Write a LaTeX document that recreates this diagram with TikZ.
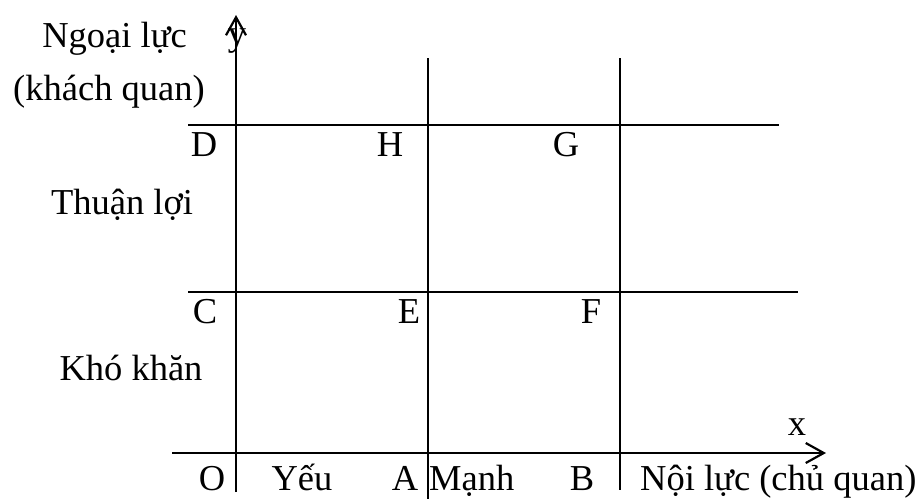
\documentclass[tikz,border=0pt]{standalone}
\usepackage{fontspec}
\setmainfont{Liberation Serif}
\usetikzlibrary{arrows.meta}
\begin{document}
\begin{tikzpicture}[x=1pt,y=-1pt,
  lbl/.style={inner sep=0pt,anchor=base,font=\fontsize{36.5}{40}\selectfont},
  axis/.style={line width=2.6pt,-{Straight Barb[length=18pt,width=20pt,line width=2.2pt]}},
  grid/.style={line width=2pt}]
\useasboundingbox (0,0) rectangle (923,499);
% coordinates
\coordinate (yb) at (236,492);
\coordinate (yt) at (236,15);
\coordinate (xl) at (172,453);
\coordinate (xr) at (826,453);
\coordinate (v1t) at (428,58);
\coordinate (v1b) at (428,499);
\coordinate (v2t) at (620,58);
\coordinate (v2b) at (620,490);
\coordinate (h1l) at (188,125);
\coordinate (h1r) at (779,125);
\coordinate (h2l) at (188,292);
\coordinate (h2r) at (798,292);
% lines
\draw[grid] (v1t) -- (v1b);
\draw[grid] (v2t) -- (v2b);
\draw[grid] (h1l) -- (h1r);
\draw[grid] (h2l) -- (h2r);
\draw[axis] (yb) -- (yt);
\draw[axis] (xl) -- (xr);
% labels
\node[lbl] (ylab) at (237,45) {y};
\node[lbl] (xlab) at (797,435) {x};
\node[lbl] (ngoai) at (114.5,47) {Ngoại lực};
\node[lbl] (khach) at (109,100) {(khách quan)};
\node[lbl] (D) at (204,156) {D};
\node[lbl] (H) at (390,156) {H};
\node[lbl] (G) at (566,156) {G};
\node[lbl] (thuan) at (122,214) {Thuận lợi};
\node[lbl] (C) at (205,323) {C};
\node[lbl] (E) at (409,323) {E};
\node[lbl] (F) at (591,323) {F};
\node[lbl] (kho) at (131,380) {Khó khăn};
\node[lbl] (O) at (212,490) {O};
\node[lbl] (yeu) at (302,490) {Yếu};
\node[lbl] (A) at (405,490) {A};
\node[lbl,anchor=base west] (manh) at (429,490) {Mạnh};
\node[lbl] (B) at (582,490) {B};
\node[lbl,anchor=base west] (noi) at (640,490) {Nội lực (chủ quan)};
\end{tikzpicture}
\end{document}
